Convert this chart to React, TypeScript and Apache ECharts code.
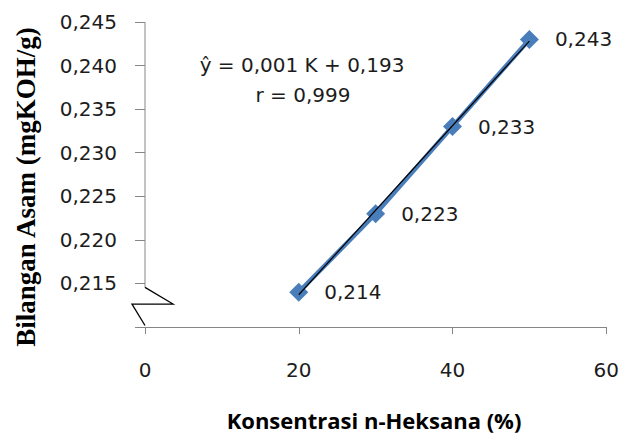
import React, { useEffect, useRef } from "react";
import * as echarts from "echarts";

// Konsentrasi n-Heksana (%) and measured acid number (mgKOH/g)
const concentrations = [20, 30, 40, 50];
const acidNumbers = [0.214, 0.223, 0.233, 0.243];

// Axis ranges
const xMin = 0;
const xMax = 60;
const xStep = 20;
const yMin = 0.21;
const yMax = 0.245;
const yStep = 0.005;
const yFirstShown = 0.215;

const equationLines = ["ŷ = 0,001 K + 0,193", "r = 0,999"];
const xTitle = "Konsentrasi n-Heksana (%)";
const yTitle = "Bilangan Asam (mgKOH/g)";

const numFont = "DejaVu Sans";
const textColor = "#1c1c1c";
const axisColor = "#868686";
const seriesColor = "#4A7EBB";

const comma = (v: number, digits: number) => v.toFixed(digits).replace(".", ",");

// least-squares trend line over the measured points
function regression(xs: number[], ys: number[]) {
  const n = xs.length;
  const mx = xs.reduce((a, b) => a + b, 0) / n;
  const my = ys.reduce((a, b) => a + b, 0) / n;
  let sxy = 0;
  let sxx = 0;
  for (let i = 0; i < n; i++) {
    sxy += (xs[i] - mx) * (ys[i] - my);
    sxx += (xs[i] - mx) * (xs[i] - mx);
  }
  const slope = sxy / sxx;
  return { slope, intercept: my - slope * mx };
}

export default function App() {
  const ref = useRef<HTMLDivElement>(null);

  useEffect(() => {
    if (!ref.current) return;
    const chart = echarts.init(ref.current, null, { renderer: "svg" });
    const fit = regression(concentrations, acidNumbers);
    const x0 = concentrations[0];
    const x1 = concentrations[concentrations.length - 1];
    const trend = [
      [x0, fit.intercept + fit.slope * x0],
      [x1, fit.intercept + fit.slope * x1],
    ];

    chart.setOption({
      animation: false,
      grid: { left: 145, right: 15, top: 22, bottom: 109 },
      xAxis: {
        type: "value",
        min: xMin,
        max: xMax,
        interval: xStep,
        splitLine: { show: false },
        axisLine: { show: true, lineStyle: { color: axisColor, width: 1 } },
        axisTick: { show: true, inside: false, length: 7, lineStyle: { color: axisColor } },
        axisLabel: {
          margin: 33,
          fontFamily: numFont,
          fontSize: 20,
          color: textColor,
          formatter: (v: number) => String(v),
        },
      },
      yAxis: {
        type: "value",
        min: yMin,
        max: yMax,
        interval: yStep,
        splitLine: { show: false },
        axisLine: { show: false },
        axisTick: { show: true, inside: false, length: 10, lineStyle: { color: axisColor } },
        axisLabel: {
          margin: 28,
          fontFamily: numFont,
          fontSize: 20,
          color: textColor,
          formatter: (v: number) => (v < yFirstShown - 1e-9 ? "" : comma(v, 3)),
        },
      },
      series: [
        {
          type: "line",
          data: concentrations.map((x, i) => [x, acidNumbers[i]]),
          lineStyle: { color: seriesColor, width: 4.5 },
          itemStyle: { color: seriesColor },
          symbol: "diamond",
          symbolSize: 19,
          z: 2,
          label: {
            show: true,
            position: "right",
            distance: 16,
            fontFamily: numFont,
            fontSize: 20,
            color: textColor,
            formatter: (p: any) => comma(p.value[1], 3),
          },
        },
        {
          type: "line",
          data: trend,
          symbol: "none",
          lineStyle: { color: "#000000", width: 1.2 },
          z: 3,
          silent: true,
        },
      ],
    });

    // y axis line with a break between the first shown tick and the x axis
    const top = chart.convertToPixel({ xAxisIndex: 0, yAxisIndex: 0 }, [xMin, yMax]) as number[];
    const brk = chart.convertToPixel({ xAxisIndex: 0, yAxisIndex: 0 }, [xMin, yFirstShown]) as number[];
    const bottom = chart.convertToPixel({ xAxisIndex: 0, yAxisIndex: 0 }, [xMin, yMin]) as number[];
    const ax = top[0];
    const midY = brk[1] + 20.6;

    chart.setOption({
      graphic: [
        {
          type: "line",
          shape: { x1: ax, y1: top[1], x2: ax, y2: brk[1] + 4 },
          style: { stroke: axisColor, lineWidth: 1 },
        },
        {
          type: "polyline",
          shape: {
            points: [
              [ax, brk[1] + 4],
              [ax + 28, midY],
              [ax - 13, midY],
              [ax, bottom[1] - 1.5],
            ],
          },
          style: { stroke: "#000000", lineWidth: 1.3, fill: "none" },
        },
        {
          type: "text",
          x: 302,
          y: 65,
          style: {
            text: equationLines[0],
            fontFamily: numFont,
            fontSize: 20,
            fill: textColor,
            textAlign: "center",
            textVerticalAlign: "middle",
          },
        },
        {
          type: "text",
          x: 303,
          y: 95,
          style: {
            text: equationLines[1],
            fontFamily: numFont,
            fontSize: 20,
            fill: textColor,
            textAlign: "center",
            textVerticalAlign: "middle",
          },
        },
        {
          type: "text",
          x: 374,
          y: 420,
          style: {
            text: xTitle,
            fontFamily: "Open Sans",
            fontWeight: "bold",
            fontSize: 22,
            fill: "#000000",
            textAlign: "center",
            textVerticalAlign: "middle",
          },
        },
        {
          type: "text",
          x: 26,
          y: 187,
          rotation: Math.PI / 2,
          style: {
            text: yTitle,
            fontFamily: "Liberation Serif",
            fontWeight: "bold",
            fontSize: 27,
            fill: "#000000",
            textAlign: "center",
            textVerticalAlign: "middle",
          },
        },
      ],
    });

    return () => chart.dispose();
  }, []);

  return (
    <div
      ref={ref}
      style={{ position: "fixed", left: 0, top: 0, width: 622, height: 436, background: "#ffffff" }}
    />
  );
}
